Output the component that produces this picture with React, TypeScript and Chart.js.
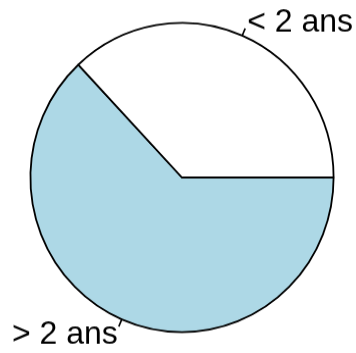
import React, { useEffect, useRef } from "react";
import { Chart, registerables } from "chart.js";

Chart.register(...registerables);

// Slices in drawing order (clockwise from 3 o'clock)
const labels = ["> 2 ans", "< 2 ans"];
const values = [63, 37];
const colors = ["#ADD8E6", "#FFFFFF"];

const W = 356;
const H = 353;

// Draws base-graphics style outside labels with short tick marks
const outsideLabels = {
  id: "outsideLabels",
  afterDatasetsDraw(chart: any) {
    const ctx = chart.ctx;
    const meta = chart.getDatasetMeta(0);
    ctx.save();
    ctx.strokeStyle = "#000";
    ctx.lineWidth = 1.6;
    ctx.fillStyle = "#000";
    ctx.font = "32px 'Liberation Sans', Arial, sans-serif";
    ctx.textBaseline = "middle";
    meta.data.forEach((arc: any, i: number) => {
      const { x, y, startAngle, endAngle, outerRadius } = arc.getProps(
        ["x", "y", "startAngle", "endAngle", "outerRadius"],
        true
      );
      const mid = (startAngle + endAngle) / 2;
      const c = Math.cos(mid);
      const s = Math.sin(mid);
      ctx.beginPath();
      ctx.moveTo(x + c * outerRadius, y + s * outerRadius);
      ctx.lineTo(x + c * outerRadius * 1.05, y + s * outerRadius * 1.05);
      ctx.stroke();
      ctx.textAlign = c > 0 ? "left" : "right";
      ctx.fillText(labels[i], x + c * outerRadius * 1.1 + (c > 0 ? -1 : 2), y + s * outerRadius * 1.1 + 1);
    });
    ctx.restore();
  },
};

export default function App() {
  const ref = useRef<HTMLCanvasElement>(null);
  useEffect(() => {
    document.body.style.margin = "0";
    const chart = new Chart(ref.current!, {
      type: "pie",
      data: {
        labels,
        datasets: [
          {
            data: values,
            backgroundColor: colors,
            borderColor: "#000",
            borderWidth: 1.8,
            borderAlign: "center",
          },
        ],
      },
      options: {
        responsive: false,
        animation: false,
        rotation: 90,
        layout: { padding: { left: 28, right: 20, top: 21.5, bottom: 26.5 } },
        plugins: {
          legend: { display: false },
          tooltip: { enabled: false },
        },
      },
      plugins: [outsideLabels],
    });
    return () => chart.destroy();
  }, []);
  return (
    <div style={{ position: "absolute", left: 0, top: 0, width: W, height: H, background: "#fff", overflow: "hidden" }}>
      <canvas
        ref={ref}
        width={W}
        height={H}
        style={{ display: "block", width: W, height: H, transform: "scaleY(1.02)", transformOrigin: "0 0" }}
      />
    </div>
  );
}
